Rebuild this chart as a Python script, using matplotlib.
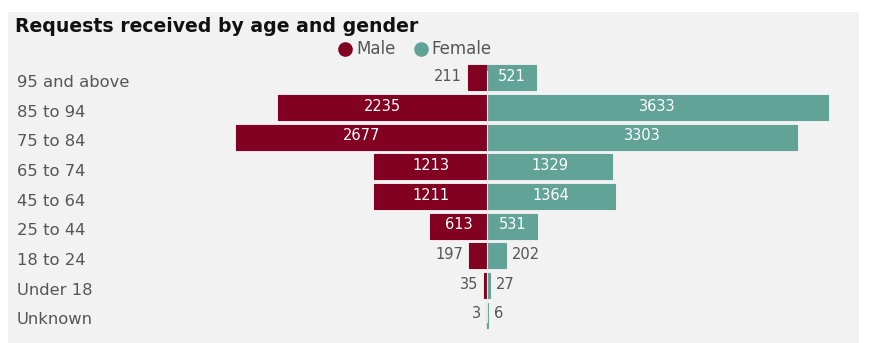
import matplotlib.pyplot as plt
from matplotlib import transforms
from matplotlib.lines import Line2D

# Requests by age band, split by gender
age_groups = ["95 and above", "85 to 94", "75 to 84", "65 to 74", "45 to 64",
              "25 to 44", "18 to 24", "Under 18", "Unknown"]
male = [211, 2235, 2677, 1213, 1211, 613, 197, 35, 3]
female = [521, 3633, 3303, 1329, 1364, 531, 202, 27, 6]

male_color = "#820021"
female_color = "#62a397"
panel_color = "#f2f2f2"
label_color = "#555555"
font = "DejaVu Sans"

W, H = 873, 343
fig = plt.figure(figsize=(W / 100, H / 100), dpi=100)
fig.patch.set_facecolor("white")

# light grey card behind everything
card = plt.Rectangle((8 / W, 0), (859 - 8) / W, (H - 12) / H,
                     transform=fig.transFigure, facecolor=panel_color,
                     edgecolor="none", zorder=-10)
fig.patches.append(card)

ax = fig.add_axes([200 / W, 1 - 330 / H, 650 / W, 267 / H])
ax.set_facecolor("none")

rows = list(range(len(age_groups)))
ax.barh(rows, [-m for m in male], height=0.85, color=male_color,
        edgecolor=male_color, linewidth=0.8)
ax.barh(rows, female, height=0.85, color=female_color,
        edgecolor=female_color, linewidth=0.8)
# thin light seam where the two halves meet
ax.axvline(0, ymin=0.03, ymax=0.97, color="#e8e8e8", linewidth=0.8)

ax.set_xlim(-3066, 3871)
ax.set_ylim(len(age_groups) - 0.5, -0.5)

# value labels: inside the bar when it is wide enough, outside otherwise
px = transforms.offset_copy
for i in rows:
    m, f = male[i], female[i]
    if m >= 400:
        ax.text(-m / 2, i - 0.05, str(m), ha="center", va="center",
                color="white", fontsize=10.5, family=font)
    else:
        ax.text(-m, i - 0.05, str(m), ha="right", va="center",
                color=label_color, fontsize=10.5, family=font,
                transform=px(ax.transData, fig=fig, x=-6, y=0, units="dots"))
    if f >= 400:
        ax.text(f / 2, i - 0.05, str(f), ha="center", va="center",
                color="white", fontsize=10.5, family=font)
    else:
        ax.text(f, i - 0.05, str(f), ha="left", va="center",
                color=label_color, fontsize=10.5, family=font,
                transform=px(ax.transData, fig=fig, x=6, y=0, units="dots"))

ax.set_xticks([])
ax.set_yticks([])
for s in ax.spines.values():
    s.set_visible(False)

# category names down the left side of the card
left_tr = transforms.blended_transform_factory(fig.transFigure, ax.transData)
for i, name in enumerate(age_groups):
    ax.text(17 / W, i + 0.16, name, transform=left_tr, ha="left", va="center",
            color=label_color, fontsize=11.8, family=font)

fig.text(15 / W, 1 - 26 / H, "Requests received by age and gender",
         ha="left", va="center", fontsize=13.6, fontweight="bold",
         family=font, color="#111111")

# legend
for cx, tx, col, name in [(345, 356, male_color, "Male"),
                          (421, 431, female_color, "Female")]:
    fig.add_artist(Line2D([cx / W], [1 - 49 / H], marker="o", markersize=9.5,
                          color=col, linestyle="none",
                          transform=fig.transFigure))
    fig.text(tx / W, 1 - 49 / H, name, color=label_color, fontsize=12,
             ha="left", va="center", family=font)

fig.savefig("out.png", dpi=100, facecolor=fig.get_facecolor())
